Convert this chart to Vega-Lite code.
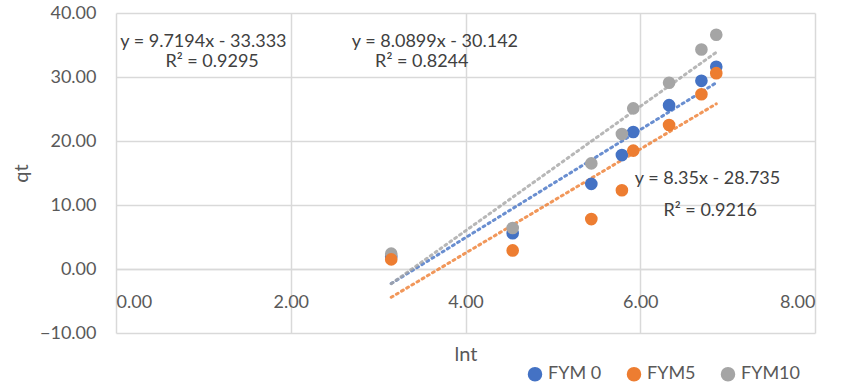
{
  "$schema": "https://vega.github.io/schema/vega-lite/v6.json",
  "width": 699,
  "height": 320,
  "autosize": {"type": "none"},
  "padding": {"left": 116, "top": 13, "right": 28, "bottom": 52},
  "background": "white",
  "config": {
    "view": {"stroke": null},
    "font": "Lato",
    "axis": {
      "gridColor": "#d9d9d9",
      "gridWidth": 1.5,
      "labelColor": "#595959",
      "titleColor": "#595959",
      "labelFontSize": 18,
      "titleFontSize": 20,
      "titleFontWeight": "normal",
      "ticks": false,
      "tickSize": 0
    },
    "legend": {
      "orient": "none",
      "direction": "horizontal",
      "legendX": 410,
      "legendY": 352,
      "symbolType": "circle",
      "symbolSize": 170,
      "symbolOpacity": 1,
      "labelFontSize": 18,
      "labelColor": "#595959",
      "columnPadding": 22,
      "labelOffset": 4
    }
  },
  "datasets": {
    "pts": [
      {"lnt": 3.15, "qt": 1.9, "series": "FYM 0"},
      {"lnt": 4.54, "qt": 5.6, "series": "FYM 0"},
      {"lnt": 5.44, "qt": 13.3, "series": "FYM 0"},
      {"lnt": 5.79, "qt": 17.8, "series": "FYM 0"},
      {"lnt": 5.92, "qt": 21.4, "series": "FYM 0"},
      {"lnt": 6.33, "qt": 25.6, "series": "FYM 0"},
      {"lnt": 6.70, "qt": 29.4, "series": "FYM 0"},
      {"lnt": 6.87, "qt": 31.6, "series": "FYM 0"},
      {"lnt": 3.15, "qt": 1.5, "series": "FYM5"},
      {"lnt": 4.54, "qt": 2.9, "series": "FYM5"},
      {"lnt": 5.44, "qt": 7.8, "series": "FYM5"},
      {"lnt": 5.79, "qt": 12.3, "series": "FYM5"},
      {"lnt": 5.92, "qt": 18.5, "series": "FYM5"},
      {"lnt": 6.33, "qt": 22.5, "series": "FYM5"},
      {"lnt": 6.70, "qt": 27.3, "series": "FYM5"},
      {"lnt": 6.87, "qt": 30.6, "series": "FYM5"},
      {"lnt": 3.15, "qt": 2.4, "series": "FYM10"},
      {"lnt": 4.54, "qt": 6.4, "series": "FYM10"},
      {"lnt": 5.44, "qt": 16.5, "series": "FYM10"},
      {"lnt": 5.79, "qt": 21.1, "series": "FYM10"},
      {"lnt": 5.92, "qt": 25.1, "series": "FYM10"},
      {"lnt": 6.33, "qt": 29.1, "series": "FYM10"},
      {"lnt": 6.70, "qt": 34.3, "series": "FYM10"},
      {"lnt": 6.87, "qt": 36.6, "series": "FYM10"}
    ],
    "labels": [
      {"lnt": 1.0, "qt": 35.4, "label": "y = 9.7194x - 33.333"},
      {"lnt": 1.1, "qt": 32.3, "label": "R² = 0.9295"},
      {"lnt": 3.65, "qt": 35.4, "label": "y = 8.0899x - 30.142"},
      {"lnt": 3.5, "qt": 32.3, "label": "R² = 0.8244"},
      {"lnt": 6.77, "qt": 14.1, "label": "y = 8.35x - 28.735"},
      {"lnt": 6.8, "qt": 9.1, "label": "R² = 0.9216"}
    ]
  },
  "layer": [
    {
      "data": {"name": "pts"},
      "transform": [{"regression": "qt", "on": "lnt", "groupby": ["series"]}],
      "mark": {"type": "line", "strokeDash": [2, 4], "strokeWidth": 3, "strokeCap": "round", "opacity": 0.8},
      "encoding": {
        "x": {"field": "lnt", "type": "quantitative"},
        "y": {"field": "qt", "type": "quantitative"},
        "color": {"field": "series", "type": "nominal"}
      }
    },
    {
      "data": {"name": "pts"},
      "mark": {"type": "point", "filled": true, "shape": "circle", "size": 160, "opacity": 1, "stroke": null},
      "encoding": {
        "x": {
          "field": "lnt", "type": "quantitative",
          "scale": {"domain": [0, 8], "nice": false, "zero": false},
          "axis": {
            "values": [0, 2, 4, 6, 8], "format": ".2f", "title": "lnt",
            "offset": -64, "labelPadding": 24, "titlePadding": 33,
            "domain": true, "domainColor": "#d9d9d9", "domainWidth": 1.5,
            "grid": true
          }
        },
        "y": {
          "field": "qt", "type": "quantitative",
          "scale": {"domain": [-10, 40], "nice": false, "zero": false},
          "axis": {
            "values": [-10, 0, 10, 20, 30, 40], "format": ".2f", "title": "qt",
            "labelPadding": 20, "titlePadding": 8, "domain": false, "grid": true
          }
        },
        "color": {
          "field": "series", "type": "nominal",
          "scale": {"domain": ["FYM 0", "FYM5", "FYM10"], "range": ["#4472C4", "#ED7D31", "#A5A5A5"]},
          "legend": {"title": null, "symbolType": "circle"}
        },
        "order": {"field": "series"}
      }
    },
    {
      "data": {"name": "labels"},
      "mark": {"type": "text", "fontSize": 18, "color": "#404040", "align": "center", "baseline": "middle"},
      "encoding": {
        "x": {"field": "lnt", "type": "quantitative"},
        "y": {"field": "qt", "type": "quantitative"},
        "text": {"field": "label"}
      }
    }
  ]
}
